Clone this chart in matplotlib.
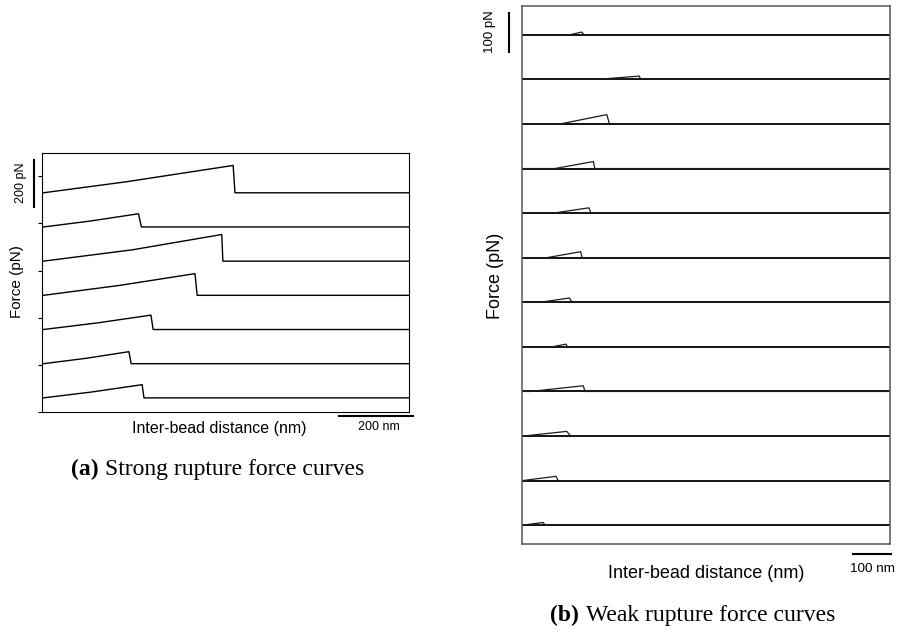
import matplotlib
matplotlib.use('Agg')
import matplotlib.pyplot as plt
from matplotlib.transforms import blended_transform_factory

plt.rcParams['font.family'] = ['Liberation Sans', 'DejaVu Sans']

# strong rupture curves, top to bottom: extension (nm) and force above baseline (pN)
strong_start_nm = [3, 3, 3, 3, 3, 3, 3]
strong_mid_nm = [230, 130, 245, 210, 150, 120, 135]
strong_mid_pN = [47, 25, 48, 42, 28, 23, 25]
strong_peak_nm = [520, 262, 489, 416, 296, 236, 272]
strong_peak_pN = [116, 56, 113, 92, 61, 51, 56]
strong_drop_nm = [525, 270, 492, 422, 302, 242, 277]
strong_step = 145

# weak rupture curves, top to bottom
weak_rise_nm = [127, 200, 101, 87, 83, 65, 47, 79, 21, 3, 0, 0]
weak_peak_nm = [159, 313, 226, 190, 178, 156, 126, 117, 163, 119, 90, 56]
weak_peak_pN = [7, 8.5, 24, 18, 13.6, 15.4, 11, 7, 14.6, 12, 11, 7]
weak_drop_nm = [165, 316, 233, 194, 184, 160, 133, 121, 168, 129, 96, 61]
weak_step = 114.3


def fpos(x, y):
    return x / 900, 1 - y / 630


fig = plt.figure(figsize=(9, 6.3), dpi=100)

# (a) strong ruptures
ax1 = fig.add_axes([0.047, 0.346, 0.4078, 0.4116])
n = len(strong_peak_nm)
for i in range(n):
    base = (n - 1 - i) * strong_step
    xs = [strong_start_nm[i], strong_mid_nm[i], strong_peak_nm[i], strong_drop_nm[i], 1000]
    ys = [0, strong_mid_pN[i], strong_peak_pN[i], 0, 0]
    ax1.plot(xs, [y + base for y in ys], color='black', lw=1.0)
ax1.set_xlim(0, 1000)
ax1.set_ylim(-60, 1040)
ax1.set_xticks([])
ax1.set_yticks(range(-60, 941, 200))
ax1.set_yticklabels([])
ax1.tick_params(axis='y', length=3, width=0.8, direction='out')
for s in ax1.spines.values():
    s.set_linewidth(0.8)

tr = blended_transform_factory(ax1.transData, ax1.transAxes)
ax1.plot([809, 1009], [-0.0154, -0.0154], transform=tr, color='black', lw=1.5, clip_on=False)
tr = blended_transform_factory(ax1.transAxes, ax1.transData)
ax1.plot([-0.0234, -0.0234], [810, 1010], transform=tr, color='black', lw=1.5, clip_on=False)

fig.text(*fpos(219, 428), 'Inter-bead distance (nm)', ha='center', va='center', fontsize=11.5)
fig.text(*fpos(379, 427), '200 nm', ha='center', va='center', fontsize=9)
fig.text(*fpos(21, 183), '200 pN', ha='center', va='center', fontsize=9, rotation=90)
fig.text(*fpos(17, 282), 'Force (pN)', ha='center', va='center', fontsize=11, rotation=90)

# (b) weak ruptures
ax2 = fig.add_axes([0.5803, 0.136, 0.4086, 0.855])
m = len(weak_peak_nm)
for i in range(m):
    base = (m - 1 - i) * weak_step
    ax2.plot([0, 983], [base, base], color='black', lw=1.3)
    xs = [0, weak_rise_nm[i], weak_peak_nm[i], weak_drop_nm[i], 983]
    ys = [0, 0, weak_peak_pN[i], 0, 0]
    ax2.plot(xs, [y + base for y in ys], color='#1a1a1a', lw=0.9)
ax2.set_xlim(0, 983)
ax2.set_ylim(-49, 1332)
ax2.set_xticks([])
ax2.set_yticks([])
for s in ax2.spines.values():
    s.set_linewidth(1.1)
    s.set_color('#555555')

tr = blended_transform_factory(ax2.transData, ax2.transAxes)
ax2.plot([885, 985], [-0.0175, -0.0175], transform=tr, color='black', lw=1.5, clip_on=False)
tr = blended_transform_factory(ax2.transAxes, ax2.transData)
ax2.plot([-0.0354, -0.0354], [1212, 1312], transform=tr, color='black', lw=1.5, clip_on=False)

fig.text(*fpos(706, 574), 'Inter-bead distance (nm)', ha='center', va='center', fontsize=13)
fig.text(*fpos(872, 569), '100 nm', ha='center', va='center', fontsize=9.7)
fig.text(*fpos(490, 32), '100 pN', ha='center', va='center', fontsize=9.5, rotation=90)
fig.text(*fpos(496, 276), 'Force (pN)', ha='center', va='center', fontsize=13, rotation=90)

# captions
fig.text(*fpos(71, 475), '(a)', ha='left', va='baseline', fontsize=17,
         family='Liberation Serif', weight='bold')
fig.text(*fpos(105, 475), 'Strong rupture force curves', ha='left', va='baseline', fontsize=17,
         family='Liberation Serif')
fig.text(*fpos(550, 621.5), '(b)', ha='left', va='baseline', fontsize=17,
         family='Liberation Serif', weight='bold')
fig.text(*fpos(586, 621.5), 'Weak rupture force curves', ha='left', va='baseline', fontsize=17,
         family='Liberation Serif')

fig.savefig('out.png', dpi=100)
